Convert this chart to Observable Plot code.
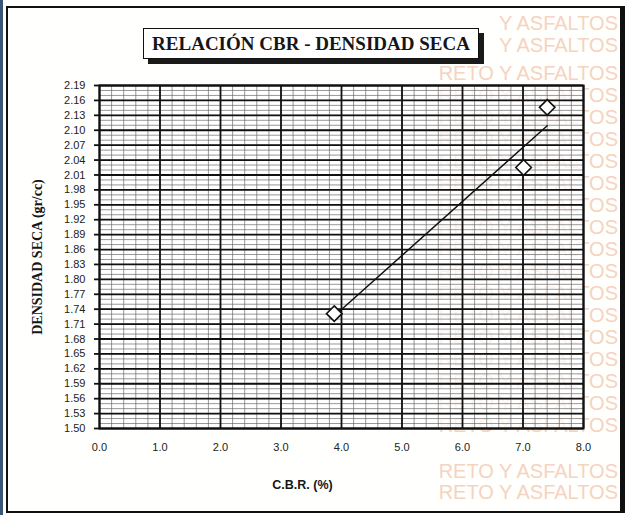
<!DOCTYPE html>
<html>
<head>
<meta charset="utf-8">
<script src="https://cdn.jsdelivr.net/npm/d3@7"></script>
<script src="https://cdn.jsdelivr.net/npm/@observablehq/plot@0.6"></script>
<style>
  html, body { margin: 0; padding: 0; background: #fffffd; }
  #wrap { position: relative; width: 630px; height: 515px; overflow: hidden; background: #fffffd; }
  #strip { position: absolute; left: 0; top: 0; width: 3px; height: 515px; background: #3b5778; }
  #border { position: absolute; left: 6px; top: 6px; right: 5px; bottom: 2px;
            border-left: 2px solid #111; border-top: 2px solid #111; border-right: 5px solid #111; border-bottom: 2px solid #111; }
  .wm { position: absolute; right: 12px; font-family: Arial, "Liberation Sans", sans-serif; font-size: 20px;
        color: #f6d3c0; white-space: nowrap; line-height: 22px; }
  #chart { position: absolute; left: 0; top: 0; }
  #title { position: absolute; left: 143px; top: 28px; width: 334px; height: 29px; background: #fff;
           border: 1.5px solid #111; box-shadow: 5px 5px 0 #1a1a1a;
           font-family: "Liberation Serif", "Times New Roman", serif; font-weight: bold; font-size: 19px;
           color: #161616; text-align: center; line-height: 29px; }
</style>
</head>
<body>
<div id="wrap">
  <div id="wmlayer"></div>
  <div id="chart"></div>
  <div id="strip"></div>
  <div id="border"></div>
  <div id="title">RELACIÓN CBR - DENSIDAD SECA</div>
</div>
<script>
// Data
const cbr = [3.88, 7.01, 7.40];
const densidad = [1.731, 2.025, 2.146];

// Tick labels
const xTicks = [0, 1, 2, 3, 4, 5, 6, 7, 8];
const yTicks = [1.50, 1.53, 1.56, 1.59, 1.62, 1.65, 1.68, 1.71, 1.74, 1.77, 1.80, 1.83,
                1.86, 1.89, 1.92, 1.95, 1.98, 2.01, 2.04, 2.07, 2.10, 2.13, 2.16, 2.19];

const titleText = "RELACIÓN CBR - DENSIDAD SECA";
const yLabel = "DENSIDAD SECA (gr/cc)";
const xLabel = "C.B.R. (%)";
// faint scanned watermark: row texts and their tops (px)
const watermarkTexts = ["Y ASFALTOS", "Y ASFALTOS", "RETO Y ASFALTOS", "RETO Y ASFALTOS", "RETO Y ASFALTOS",
  "RETO Y ASFALTOS", "RETO Y ASFALTOS", "RETO Y ASFALTOS", "RETO Y ASFALTOS", "RETO Y ASFALTOS",
  "RETO Y ASFALTOS", "RETO Y ASFALTOS", "RETO Y ASFALTOS", "RETO Y ASFALTOS", "RETO Y ASFALTOS",
  "RETO Y ASFALTOS", "RETO Y ASFALTOS", "RETO Y ASFALTOS", "RETO Y ASFALTOS", "RETO Y ASFALTOS", "RETO Y ASFALTOS"];
const watermarkRows = [12, 34, 62, 84, 106, 128, 150, 172, 194, 216, 238, 260, 282, 304, 326, 348, 370, 392, 414, 460, 481];

// minor grid positions (graph paper)
const xMinor = d3.range(0, 41).map(i => i * 0.2);
const yMinor = d3.range(0, 70).map(i => 1.50 + i * 0.01);

// watermark lines
const wm = document.getElementById("wmlayer");
watermarkRows.forEach((top, i) => {
  const s = document.createElement("div");
  s.className = "wm";
  s.style.top = top + "px";
  s.textContent = watermarkTexts[i];
  wm.appendChild(s);
});

const chart = Plot.plot({
  width: 630,
  height: 515,
  marginLeft: 99,
  marginRight: 47,
  marginTop: 85,
  marginBottom: 87,
  style: { background: "transparent", fontFamily: "Arial, 'Liberation Sans', sans-serif", fontSize: "11px", color: "#222" },
  x: { domain: [0, 8] },
  y: { domain: [1.50, 2.19] },
  marks: [
    Plot.frame({ fill: "white", fillOpacity: 0.72 }),
    Plot.ruleX(xMinor, { stroke: "#666", strokeWidth: 0.9, strokeOpacity: 0.75 }),
    Plot.ruleY(yMinor, { stroke: "#666", strokeWidth: 0.9, strokeOpacity: 0.75 }),
    Plot.ruleX(xTicks, { stroke: "#111", strokeWidth: 1.8 }),
    Plot.ruleY(yTicks, { stroke: "#111", strokeWidth: 1.8 }),
    Plot.axisX(xTicks, { tickSize: 0, tickPadding: 15, tickFormat: d => d.toFixed(1), label: null, fill: "#222" }),
    Plot.axisY(yTicks, { tickSize: 5, tickPadding: 9, strokeWidth: 1.8, stroke: "#111", tickFormat: d => d.toFixed(2), label: null, fill: "#222" }),
    Plot.frame({ stroke: "#111", strokeWidth: 2 }),
    Plot.linearRegressionY({ length: cbr.length }, { x: cbr, y: densidad, ci: 0, stroke: "#111", strokeWidth: 1.5 }),
    Plot.dot({ length: cbr.length }, { x: cbr, y: densidad, symbol: "diamond2", r: 7, stroke: "#111", strokeWidth: 1.6, fill: "white" }),
    Plot.text([yLabel], { text: d => d, frameAnchor: "left", textAnchor: "middle", dx: -62, rotate: -90,
      fontFamily: "'Liberation Serif', 'Times New Roman', serif", fontWeight: "bold", fontSize: 14, fill: "#161616" }),
    Plot.text([xLabel], { text: d => d, frameAnchor: "bottom", dx: -39, dy: 60,
      fontFamily: "Arial, 'Liberation Sans', sans-serif", fontWeight: "bold", fontSize: 12.5, fill: "#161616" })
  ]
});
document.getElementById("chart").appendChild(chart);
</script>
</body>
</html>
